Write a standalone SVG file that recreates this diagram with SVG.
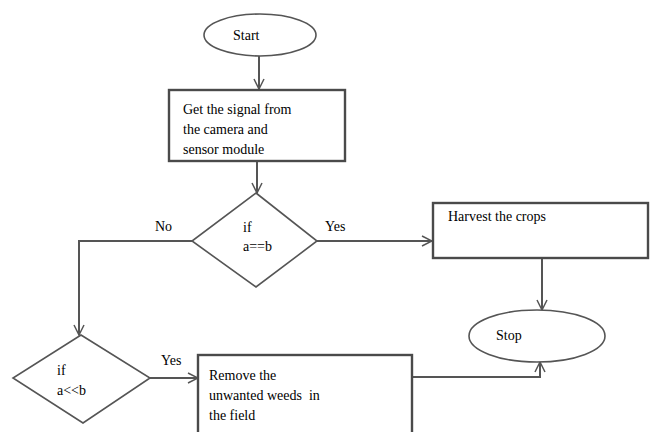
<svg xmlns="http://www.w3.org/2000/svg" width="651" height="432" viewBox="0 0 651 432">
<defs>
<style>
.shape{fill:#fff;stroke:#555;stroke-width:1.6}
.box{fill:#fff;stroke:#4a4a4a;stroke-width:2.4}
.line{fill:none;stroke:#555;stroke-width:2}
.t{font-family:'Liberation Serif','Times New Roman',serif;font-size:14px;fill:#000}
</style>
<marker id="arr" viewBox="0 0 12 12" refX="11" refY="6" markerWidth="12" markerHeight="12" markerUnits="userSpaceOnUse" orient="auto">
<path d="M1,1 L11,6 L1,11" fill="none" stroke="#555" stroke-width="1.5"/>
</marker>
</defs>
<rect width="651" height="432" fill="#fff"/>
<g id="connectors">
<path class="line" d="M259,56 V89" marker-end="url(#arr)"/>
<path class="line" d="M257,162 V193" marker-end="url(#arr)"/>
<path class="line" d="M317,241 H432" marker-end="url(#arr)"/>
<path class="line" d="M192,241 H79 V335" marker-end="url(#arr)"/>
<path class="line" d="M150,378 H198" marker-end="url(#arr)"/>
<path class="line" d="M542,259 V310" marker-end="url(#arr)"/>
<path class="line" d="M413,377 H540 V362" marker-end="url(#arr)"/>
<text class="t" x="325" y="231">Yes</text>
<text class="t" x="155" y="231">No</text>
<text class="t" x="161" y="365">Yes</text>
</g>
<g id="start">
<ellipse class="shape" cx="260" cy="35" rx="56" ry="21"/>
<text class="t" x="233" y="40">Start</text>
</g>
<g id="get-signal">
<rect class="box" x="169" y="90" width="176" height="71"/>
<text class="t" x="183" y="114">Get the signal from</text>
<text class="t" x="183" y="134">the camera and</text>
<text class="t" x="183" y="154">sensor module</text>
</g>
<g id="decision1">
<polygon class="shape" points="256,193 317,241 256,287 192,241"/>
<text class="t" x="243" y="232">if</text>
<text class="t" x="243" y="251">a==b</text>
</g>
<g id="harvest">
<rect class="box" x="433" y="203" width="215" height="55"/>
<text class="t" x="448" y="221">Harvest the crops</text>
</g>
<g id="stop">
<ellipse class="shape" cx="537" cy="336" rx="68" ry="26"/>
<text class="t" x="496" y="340">Stop</text>
</g>
<g id="decision2">
<polygon class="shape" points="81,335 150,378 83,423 13,378"/>
<text class="t" x="57" y="375">if</text>
<text class="t" x="57" y="395">a&lt;&lt;b</text>
</g>
<g id="remove-weeds">
<rect class="box" x="198" y="355" width="214" height="90"/>
<text class="t" x="209" y="380">Remove the</text>
<text class="t" x="209" y="400" xml:space="preserve">unwanted weeds  in</text>
<text class="t" x="209" y="420">the field</text>
</g>
</svg>
